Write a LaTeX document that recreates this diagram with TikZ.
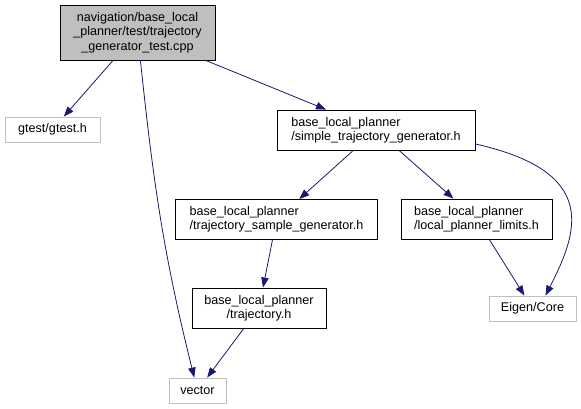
\documentclass[tikz,border=0pt]{standalone}
\usepackage{fontspec}
\setmainfont{Liberation Sans}
\usetikzlibrary{arrows.meta}
\definecolor{depblue}{HTML}{191970}
\definecolor{boxgray}{HTML}{BFBFBF}

\begin{document}
\begin{tikzpicture}[x=1pt, y=-1pt,
  hdr/.style={rectangle, draw=black, line width=0.9pt, inner sep=0pt, font=\fontsize{12.6}{14.4}\selectfont},
  ext/.style={rectangle, draw=boxgray, line width=0.9pt, inner sep=0pt, minimum height=25pt, font=\fontsize{12.6}{14.4}\selectfont},
  dep/.style={depblue, line width=0.8pt, -{Triangle[length=10pt, width=7.5pt]}}
]
\useasboundingbox (0,0) rectangle (581,409);

\node[hdr, fill=boxgray, align=center, minimum width=155pt, minimum height=55pt] (main) at (137.5,32.5)
  {navigation/base\_local\\\_planner/test/trajectory\\\_generator\_test.cpp};
\node[ext, minimum width=95pt] (gtest) at (52.5,129.5) {gtest/gtest.h};
\node[hdr, align=left, minimum width=198pt, minimum height=40pt] (simple) at (376,130)
  {base\_local\_planner\\/simple\_trajectory\_generator.h};
\node[hdr, align=left, minimum width=202pt, minimum height=40pt] (sample) at (276.5,219.5)
  {base\_local\_planner\\/trajectory\_sample\_generator.h};
\node[hdr, align=left, minimum width=151pt, minimum height=40pt] (limits) at (476.5,219)
  {base\_local\_planner\\/local\_planner\_limits.h};
\node[hdr, align=center, minimum width=134pt, minimum height=40pt] (traj) at (259,308)
  {base\_local\_planner\\/trajectory.h};
\node[ext, minimum width=87pt] (eigen) at (532.5,308.5) {Eigen/Core};
\node[ext, minimum width=57pt] (vector) at (197.5,390.5) {vector};

\foreach \a/\b in {main/gtest, main/simple, simple/sample, simple/limits, limits/eigen, sample/traj, traj/vector}
  \draw[dep] (\a) -- (\b);
\draw[dep] (main) to[out=-84, in=104] (vector);
\draw[dep] (simple.-8) .. controls (600,172) and (578,232) .. (eigen.45);
\end{tikzpicture}
\end{document}
